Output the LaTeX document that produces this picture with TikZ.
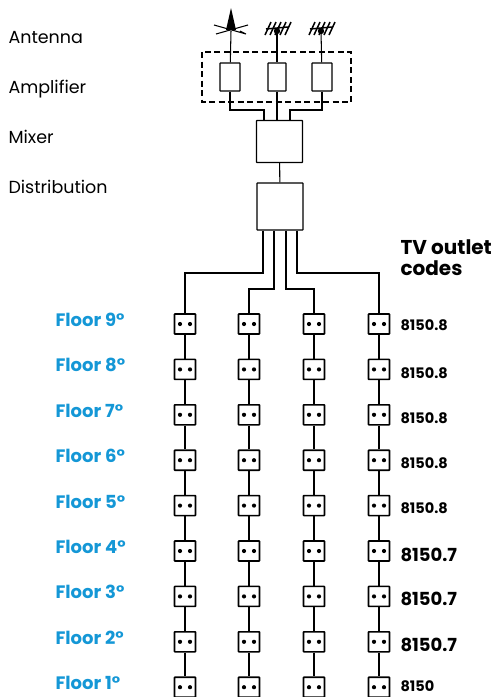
\documentclass[tikz,border=0pt]{standalone}
\usepackage{fontspec}
\setmainfont{Poppins}
\usetikzlibrary{calc}
\definecolor{floorblue}{HTML}{1497D6}
\tikzset{
  unit/.style={draw, line width=1.3pt, inner sep=0pt, rounded corners=0.5pt},
  amp/.style={unit, minimum width=20pt, minimum height=28pt},
  block/.style={unit, minimum width=46pt, minimum height=42pt},
  outlet/.style={unit, line width=1.6pt, minimum width=21pt, minimum height=20pt},
  floorlabel/.style={anchor=base west, inner sep=0pt, text=floorblue, font=\fontsize{18}{20}\selectfont\bfseries},
  rowlabel/.style={anchor=base west, inner sep=0pt, font=\fontsize{17.5}{20}\selectfont},
  code/.style={anchor=base west, inner sep=0pt, font=\fontsize{14.5}{16}\selectfont\bfseries},
  codebig/.style={anchor=base west, inner sep=0pt, font=\fontsize{18}{20}\selectfont\bfseries},
}
\begin{document}
\begin{tikzpicture}[line width=1.05pt, x=1pt, y=-1pt]
  \useasboundingbox (0,0) rectangle (497,697);
  \clip (0,0) rectangle (497,697);
  % Left column.
  \node[rowlabel] (lblant) at (8,43) {Antenna};
  \node[rowlabel] (lblamp) at (8,93) {Amplifier};
  \node[rowlabel] (lblmix) at (8,143) {Mixer};
  \node[rowlabel] (lbldist) at (8,193) {Distribution};
  % Head end.
  \draw[dash pattern=on 6pt off 3.5pt] (202,52) rectangle (351,102);
  \node[amp] (ampa) at (230,77) {};
  \node[amp, minimum width=18pt] (ampb) at (277,77) {};
  \node[amp] (ampc) at (322,77) {};
  \node[block] (mixer) at (279.5,141.5) {};
  \node[block, minimum height=47pt] (dist) at (280,206.5) {};
  % Antennas.
  \coordinate (anta) at (231,31);
  \coordinate (antb) at (277,31);
  \coordinate (antc) at (321,31);
  \fill (231,8) -- (226,30) -- (236,30) -- cycle;
  \draw (214,25) -- (246,34) (248,25) -- (216,34) (240,31) -- (246,34);
  \foreach \a in {antb,antc} {
    \fill (\a) circle (3.2pt);
    \draw[line width=1.5pt] ($(\a)+(-11,-2)$) -- ($(\a)+(11,-4)$);
    \foreach \d in {-9,-4,1,6,11}
      \draw[line width=1.5pt] ($(\a)+(\d-3,4)$) -- ($(\a)+(\d+3,-9)$);
  }
  \draw (anta) -- (ampa);
  \draw (antb) -- (ampb);
  \draw (antc) -- (ampc);
  % Amplifiers into the mixer.
  \coordinate (busa) at (264,110);
  \coordinate (busc) at (290,110);
  \draw (ampa) |- (busa) -- (busa |- mixer.north);
  \draw (ampb) -- (ampb |- mixer.north);
  \draw (ampc) |- (busc) -- (busc |- mixer.north);
  \draw (mixer) -- (dist);
  % Outlets.
  \foreach \c/\x in {a/185,b/249,c/314,d/379} {
    \foreach \r [count=\i from 0] in {9,...,1} {
      \node[outlet] (out\c\r) at (\x,324+45.4*\i) {};
      \fill ($(out\c\r)+(-5,0)$) circle (2.1pt) ($(out\c\r)+(5,0)$) circle (2.1pt);
    }
    \foreach \r/\n in {9/8,8/7,7/6,6/5,5/4,4/3,3/2,2/1}
      \draw (out\c\r) -- (out\c\n);
  }
  % Risers.
  \coordinate (risa) at (185,273);
  \coordinate (risb) at (249,289);
  \coordinate (risc) at (314,289);
  \coordinate (risd) at (379,273);
  \draw ([xshift=-17pt]dist.south) |- (risa) -- (outa9);
  \draw ([xshift=-6pt]dist.south) |- (risb) -- (outb9);
  \draw ([xshift=6pt]dist.south) |- (risc) -- (outc9);
  \draw ([xshift=17pt]dist.south) |- (risd) -- (outd9);
  % Floors and codes.
  \foreach \r/\y in {9/326,8/371,7/417,6/462,5/508,4/553,3/598,2/644,1/689}
    \node[floorlabel] (floor\r) at (55,\y) {Floor \r°};
  \node[anchor=west, inner sep=0pt, align=left, font=\fontsize{20}{21}\selectfont\bfseries] (codes) at (400,258) {TV outlet\\codes};
  \foreach \r/\y in {9/330,8/378,7/423,6/468,5/513}
    \node[code] (code\r) at (400,\y) {8150.8};
  \foreach \r/\y in {4/561,3/605,2/651}
    \node[codebig] (code\r) at (400,\y) {8150.7};
  \node[code] (code1) at (400,691) {8150};
\end{tikzpicture}
\end{document}
